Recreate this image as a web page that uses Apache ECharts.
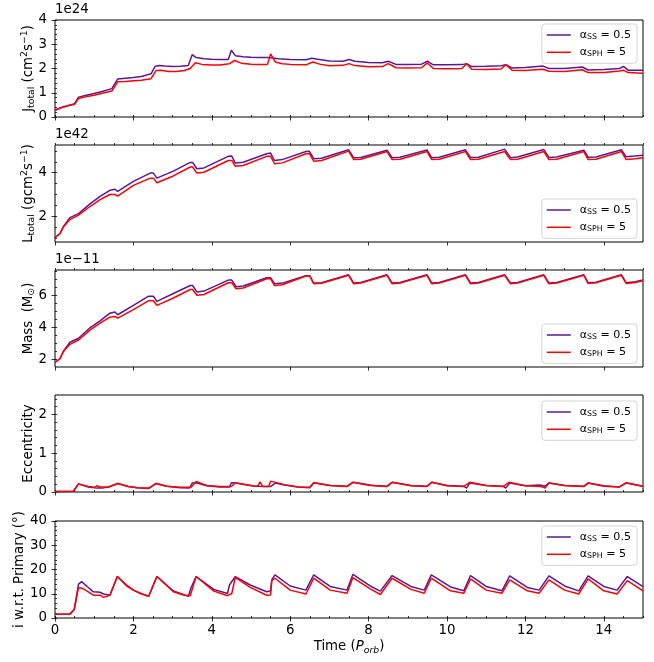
<!DOCTYPE html>
<html>
<head>
<meta charset="utf-8">
<script src="https://cdn.jsdelivr.net/npm/echarts@6/dist/echarts.min.js"></script>
<style>
  html, body { margin: 0; padding: 0; background: #fff; }
  #chart { width: 654px; height: 662px; }
</style>
</head>
<body>
<div id="chart"></div>
<script>
// ---- time axis (orbital periods) ----
const timeTicks = [0, 2, 4, 6, 8, 10, 12, 14];

// ---- total angular momentum J_total [1e24 cm^2 s^-1] : [time, value] ----
const jSS = [[0,0.28],[0.15,0.38],[0.3,0.45],[0.5,0.55],[0.6,0.82],[0.8,0.9],[1.0,0.97],[1.2,1.05],[1.45,1.17],[1.6,1.57],[1.8,1.6],[2.0,1.63],[2.2,1.67],[2.45,1.78],[2.55,2.08],[2.65,2.12],[2.8,2.1],[3.0,2.08],[3.2,2.09],[3.4,2.12],[3.5,2.57],[3.6,2.45],[3.8,2.4],[4.0,2.38],[4.2,2.37],[4.42,2.37],[4.5,2.75],[4.6,2.53],[4.8,2.48],[5.0,2.46],[5.2,2.45],[5.45,2.45],[5.5,2.5],[5.7,2.4],[6.0,2.37],[6.4,2.36],[6.55,2.42],[6.7,2.38],[7.0,2.31],[7.35,2.3],[7.5,2.37],[7.65,2.3],[8.0,2.25],[8.35,2.24],[8.5,2.3],[8.7,2.17],[9.0,2.16],[9.35,2.18],[9.5,2.3],[9.65,2.15],[10.0,2.15],[10.38,2.16],[10.5,2.2],[10.63,2.08],[11.0,2.09],[11.38,2.11],[11.5,2.16],[11.66,2.02],[12.0,2.04],[12.45,2.1],[12.6,2.0],[13.0,2.0],[13.45,2.06],[13.6,1.94],[14.0,1.96],[14.4,2.0],[14.5,2.09],[14.62,1.93],[15,1.93]];
const jSPH = [[0,0.28],[0.15,0.38],[0.3,0.45],[0.5,0.52],[0.6,0.76],[0.8,0.84],[1.0,0.9],[1.2,0.98],[1.45,1.07],[1.6,1.45],[1.8,1.46],[2.0,1.49],[2.2,1.52],[2.45,1.58],[2.58,1.92],[2.7,1.93],[2.9,1.88],[3.1,1.88],[3.3,1.92],[3.45,2.0],[3.58,2.24],[3.75,2.17],[4.0,2.14],[4.2,2.14],[4.45,2.2],[4.58,2.33],[4.75,2.22],[5.0,2.18],[5.2,2.17],[5.42,2.17],[5.5,2.6],[5.62,2.27],[5.8,2.2],[6.0,2.17],[6.4,2.15],[6.58,2.27],[6.75,2.18],[7.0,2.11],[7.35,2.13],[7.5,2.2],[7.65,2.12],[8.0,2.07],[8.35,2.08],[8.5,2.2],[8.7,2.03],[9.0,2.02],[9.35,2.03],[9.5,2.23],[9.65,2.0],[10.0,1.99],[10.38,2.0],[10.5,2.2],[10.63,1.97],[11.0,1.96],[11.38,1.98],[11.5,2.16],[11.66,1.93],[12.0,1.92],[12.45,1.97],[12.6,1.89],[13.0,1.88],[13.45,1.95],[13.6,1.83],[14.0,1.84],[14.4,1.9],[14.5,1.93],[14.62,1.83],[15,1.8]];
const jTicks = [0, 1, 2, 3, 4];

// ---- total angular momentum L_total [1e42 g cm^2 s^-1] ----
const lSS = [[0,1.02],[0.13,1.21],[0.21,1.52],[0.38,1.94],[0.6,2.12],[0.9,2.58],[1.15,2.91],[1.4,3.19],[1.53,3.24],[1.6,3.14],[2.0,3.6],[2.43,3.98],[2.51,3.98],[2.6,3.75],[3.02,4.07],[3.45,4.47],[3.51,4.47],[3.62,4.18],[3.8,4.22],[4.42,4.75],[4.51,4.76],[4.6,4.44],[4.8,4.48],[5.4,4.87],[5.5,4.9],[5.6,4.56],[5.8,4.6],[6.4,4.97],[6.49,4.98],[6.6,4.64],[6.8,4.66],[7.49,5.05],[7.62,4.69],[7.8,4.7],[8.47,5.03],[8.6,4.69],[8.8,4.71],[9.49,5.04],[9.61,4.69],[9.8,4.71],[10.47,5.05],[10.6,4.7],[10.8,4.71],[11.47,5.08],[11.62,4.69],[11.8,4.72],[12.47,5.06],[12.6,4.7],[12.8,4.72],[13.49,5.03],[13.6,4.71],[13.8,4.72],[14.45,5.05],[14.57,4.73],[14.8,4.76],[15,4.8]];
const lSPH = [[0,1.02],[0.13,1.21],[0.21,1.5],[0.38,1.85],[0.6,2.05],[0.9,2.46],[1.15,2.76],[1.4,3.0],[1.53,3.0],[1.6,2.93],[2.0,3.42],[2.43,3.75],[2.51,3.75],[2.6,3.54],[3.02,3.85],[3.45,4.26],[3.51,4.26],[3.62,3.98],[3.8,4.02],[4.42,4.56],[4.51,4.56],[4.6,4.29],[4.8,4.33],[5.4,4.75],[5.5,4.75],[5.6,4.41],[5.8,4.45],[6.4,4.87],[6.49,4.87],[6.6,4.53],[6.8,4.56],[7.49,4.99],[7.62,4.6],[7.8,4.62],[8.47,4.97],[8.6,4.6],[8.8,4.62],[9.49,4.97],[9.61,4.6],[9.8,4.62],[10.47,4.97],[10.6,4.6],[10.8,4.62],[11.47,4.97],[11.62,4.6],[11.8,4.62],[12.47,4.97],[12.6,4.6],[12.8,4.62],[13.49,4.97],[13.6,4.6],[13.8,4.62],[14.45,4.97],[14.57,4.6],[14.8,4.64],[15,4.69]];
const lTicks = [2, 4];

// ---- disc mass [1e-11 Msun] ----
const mSS = [[0,1.81],[0.13,2.06],[0.21,2.5],[0.38,3.08],[0.6,3.33],[0.9,4.0],[1.15,4.42],[1.4,4.9],[1.53,4.97],[1.6,4.8],[2.0,5.39],[2.39,5.96],[2.51,5.96],[2.6,5.64],[3.02,6.13],[3.45,6.63],[3.51,6.63],[3.62,6.23],[3.8,6.28],[4.42,6.97],[4.51,6.97],[4.62,6.55],[4.8,6.6],[5.4,7.12],[5.5,7.12],[5.6,6.74],[5.8,6.78],[6.4,7.24],[6.5,7.24],[6.6,6.78],[6.8,6.8],[7.49,7.3],[7.62,6.78],[7.8,6.82],[8.47,7.3],[8.6,6.78],[8.8,6.82],[9.49,7.3],[9.61,6.78],[9.8,6.82],[10.47,7.3],[10.6,6.78],[10.8,6.82],[11.47,7.3],[11.62,6.78],[11.8,6.82],[12.47,7.3],[12.6,6.78],[12.8,6.82],[13.49,7.3],[13.6,6.8],[13.8,6.84],[14.45,7.3],[14.57,6.8],[14.8,6.86],[15,6.98]];
const mSPH = [[0,1.81],[0.13,2.06],[0.21,2.48],[0.38,2.95],[0.6,3.22],[0.9,3.85],[1.15,4.27],[1.4,4.65],[1.53,4.69],[1.6,4.59],[2.0,5.12],[2.39,5.68],[2.51,5.68],[2.6,5.39],[3.02,5.85],[3.45,6.38],[3.51,6.38],[3.62,6.02],[3.8,6.07],[4.42,6.8],[4.51,6.8],[4.62,6.42],[4.8,6.47],[5.4,7.05],[5.5,7.05],[5.6,6.63],[5.8,6.68],[6.4,7.22],[6.5,7.22],[6.6,6.74],[6.8,6.77],[7.49,7.27],[7.62,6.74],[7.8,6.78],[8.47,7.27],[8.6,6.74],[8.8,6.78],[9.49,7.27],[9.61,6.74],[9.8,6.78],[10.47,7.27],[10.6,6.74],[10.8,6.78],[11.47,7.27],[11.62,6.74],[11.8,6.78],[12.47,7.27],[12.6,6.74],[12.8,6.78],[13.49,7.27],[13.6,6.76],[13.8,6.8],[14.45,7.27],[14.57,6.76],[14.8,6.82],[15,6.93]];
const mTicks = [2, 4, 6];

// ---- eccentricity ----
const eSS = [[0,0.01],[0.47,0.02],[0.6,0.21],[0.85,0.13],[1.07,0.1],[1.2,0.1],[1.37,0.13],[1.6,0.22],[1.87,0.14],[2.1,0.11],[2.39,0.09],[2.58,0.22],[2.85,0.15],[3.19,0.11],[3.43,0.1],[3.5,0.23],[3.6,0.24],[3.87,0.16],[4.2,0.13],[4.45,0.13],[4.5,0.24],[4.6,0.23],[5.1,0.15],[5.5,0.14],[5.55,0.12],[5.62,0.23],[5.85,0.18],[6.2,0.13],[6.5,0.11],[6.6,0.24],[7.02,0.17],[7.45,0.15],[7.6,0.25],[8.04,0.18],[8.08,0.2],[8.15,0.17],[8.47,0.15],[8.6,0.25],[9.08,0.17],[9.49,0.15],[9.61,0.25],[10.0,0.17],[10.42,0.15],[10.5,0.1],[10.58,0.23],[11.0,0.17],[11.43,0.15],[11.5,0.1],[11.6,0.23],[12.0,0.16],[12.37,0.18],[12.5,0.15],[12.6,0.23],[13.0,0.17],[13.49,0.15],[13.6,0.23],[14.0,0.16],[14.4,0.13],[14.57,0.23],[15,0.15]];
const eSPH = [[0,0.01],[0.47,0.02],[0.6,0.21],[0.85,0.14],[1.0,0.12],[1.07,0.16],[1.15,0.13],[1.37,0.13],[1.6,0.22],[1.87,0.14],[2.1,0.11],[2.39,0.1],[2.58,0.22],[2.85,0.15],[3.19,0.12],[3.47,0.12],[3.6,0.27],[3.87,0.17],[4.2,0.14],[4.5,0.14],[4.6,0.24],[5.1,0.15],[5.18,0.16],[5.23,0.26],[5.3,0.14],[5.45,0.14],[5.5,0.28],[5.85,0.19],[6.2,0.13],[6.5,0.12],[6.6,0.24],[7.02,0.17],[7.45,0.14],[7.6,0.25],[8.04,0.17],[8.47,0.14],[8.6,0.25],[9.08,0.16],[9.49,0.14],[9.61,0.25],[10.0,0.16],[10.42,0.14],[10.58,0.25],[11.0,0.17],[11.43,0.14],[11.58,0.25],[12.0,0.16],[12.4,0.14],[12.5,0.1],[12.6,0.23],[13.0,0.17],[13.49,0.14],[13.6,0.23],[14.0,0.15],[14.4,0.13],[14.57,0.24],[15,0.15]];
const eTicks = [0, 1, 2];

// ---- inclination w.r.t. the primary [deg] ----
const iSS = [[0,1.5],[0.38,1.6],[0.49,3.5],[0.6,14.0],[0.68,15.0],[0.85,12.6],[0.98,10.8],[1.15,10.6],[1.24,9.9],[1.4,9.4],[1.59,17.1],[1.83,13.6],[2.0,11.5],[2.2,10.0],[2.39,9.0],[2.6,17.1],[3.02,11.1],[3.4,9.0],[3.47,12.5],[3.6,17.1],[4.05,11.8],[4.4,10.1],[4.45,13.6],[4.6,17.1],[4.98,13.6],[5.4,10.8],[5.5,11.2],[5.53,15.7],[5.61,17.8],[6.0,13.2],[6.4,11.5],[6.6,17.8],[7.02,13.0],[7.45,11.5],[7.6,18.0],[8.04,13.2],[8.3,11.1],[8.6,17.5],[9.08,13.0],[9.42,11.5],[9.6,17.8],[10.09,12.8],[10.43,11.2],[10.6,17.5],[11.0,13.0],[11.4,11.2],[11.6,17.4],[12.05,12.6],[12.35,11.5],[12.6,17.4],[13.0,13.2],[13.36,11.2],[13.6,17.4],[14.0,13.0],[14.34,11.5],[14.6,17.1],[15,12.9]];
const iSPH = [[0,1.5],[0.38,1.6],[0.49,3.5],[0.6,12.6],[0.7,12.2],[0.85,10.8],[0.98,9.4],[1.15,9.4],[1.24,8.5],[1.4,9.4],[1.59,17.1],[1.83,13.2],[2.0,11.5],[2.2,10.0],[2.39,9.0],[2.6,17.1],[3.02,10.8],[3.3,9.4],[3.45,9.2],[3.6,17.1],[4.05,11.1],[4.4,9.2],[4.51,10.1],[4.6,16.8],[4.98,12.6],[5.4,9.4],[5.5,9.5],[5.53,15.4],[5.61,16.4],[6.0,11.5],[6.4,9.9],[6.6,16.4],[7.02,11.5],[7.45,10.2],[7.6,16.7],[8.04,12.0],[8.3,9.7],[8.6,16.4],[9.08,11.8],[9.42,10.2],[9.6,16.4],[10.09,11.2],[10.43,10.2],[10.6,16.1],[11.0,11.5],[11.4,10.2],[11.6,15.7],[12.05,11.2],[12.35,10.2],[12.6,15.7],[13.0,11.5],[13.36,9.9],[13.6,16.1],[14.0,11.2],[14.34,9.9],[14.6,15.4],[15,11.2]];
const iTicks = [0, 10, 20, 30, 40];

// ---- styling ----
const FONT = 'DejaVu Sans';
const FS = 13.33;
const SUB = 9.3;
const LFS = 11.1;   // legend font ("small")
const LSUB = 7.8;
const C_SS = '#5a1898';
const C_SPH = '#ff0000';
const INK = '#000';

const gridTops = [20, 145, 270, 395, 521];
const gridH = 97;

// evenly spaced tick positions
function steps(lo, hi, step) {
  const out = [];
  for (let v = lo; v <= hi + 1e-9; v += step) out.push(+v.toFixed(6));
  return out;
}

const nameRich = {
  m: { fontFamily: FONT, fontSize: FS, color: INK, lineHeight: 16 },
  s: { fontFamily: FONT, fontSize: SUB, color: INK, lineHeight: 8, verticalAlign: 'bottom' },
  u: { fontFamily: FONT, fontSize: SUB, color: INK, lineHeight: 8, verticalAlign: 'top' },
  it: { fontFamily: FONT, fontSize: FS, color: INK, lineHeight: 16, fontStyle: 'italic' },
  its: { fontFamily: FONT, fontSize: SUB, color: INK, lineHeight: 8, verticalAlign: 'bottom', fontStyle: 'italic' }
};

const panels = [
  { ss: jSS, sph: jSPH, min: 0, max: 4, ticks: jTicks, minor: steps(0, 4, 0.2),
    name: '{m|J}{s|total}{m| (cm}{u|2}{m|s}{u|\u22121}{m|)}', gap: 18.5, offset: '1e24', lgTop: 24 },
  { ss: lSS, sph: lSPH, min: 0.82, max: 5.27, ticks: lTicks, minor: steps(1, 5, 0.5),
    name: '{m|L}{s|total}{m| (gcm}{u|2}{m|s}{u|\u22121}{m|)}', gap: 18.5, offset: '1e42', lgTop: 199 },
  { ss: mSS, sph: mSPH, min: 1.53, max: 7.6, ticks: mTicks, minor: steps(2, 7.5, 0.5),
    name: '{m|Mass  (M}{s|\u2299}{m|)}', gap: 18.5, offset: '1e\u221211', lgTop: 324 },
  { ss: eSS, sph: eSPH, min: 0, max: 2.5, ticks: eTicks, minor: steps(0, 2.4, 0.2),
    name: '{m|Eccentricity}', gap: 18.5, offset: null, lgTop: 401 },
  { ss: iSS, sph: iSPH, min: 0, max: 40, ticks: iTicks, minor: steps(0, 40, 2),
    name: '{m|i w.r.t. Primary (°)}', gap: 27.5, offset: null, lgTop: 526 }
];

const grid = [], xAxis = [], yAxis = [], series = [], legend = [], graphic = [];
const tickLine = { color: INK, width: 0.8 };

panels.forEach((p, i) => {
  const last = i === panels.length - 1;
  grid.push({ left: 55, right: 11, top: gridTops[i], height: gridH, show: true,
    borderColor: INK, borderWidth: 1, backgroundColor: 'transparent' });

  // major x axis
  xAxis.push({
    gridIndex: i, type: 'value', min: 0, max: 15,
    axisLine: { show: false }, splitLine: { show: false },
    axisTick: { show: true, customValues: timeTicks, length: 3.5, lineStyle: tickLine },
    axisLabel: { show: last, customValues: timeTicks, fontFamily: FONT, fontSize: FS, color: INK, margin: 6 },
    name: last ? '{m|Time (}{it|P}{its|orb}{m|)}' : '',
    nameLocation: 'middle', nameGap: 21, nameMoveOverlap: false,
    nameTextStyle: { rich: nameRich }
  });
  // minor x ticks
  xAxis.push({
    gridIndex: i, type: 'value', min: 0, max: 15,
    axisLine: { show: false }, splitLine: { show: false },
    axisTick: { show: true, customValues: steps(0, 15, 0.5), length: 2, lineStyle: tickLine },
    axisLabel: { show: false }
  });
  // major y axis
  yAxis.push({
    gridIndex: i, type: 'value', min: p.min, max: p.max,
    axisLine: { show: false }, splitLine: { show: false },
    axisTick: { show: true, customValues: p.ticks, length: 3.5, lineStyle: tickLine },
    axisLabel: { show: true, customValues: p.ticks, fontFamily: FONT, fontSize: FS, color: INK, margin: 8 },
    name: p.name, nameLocation: 'middle', nameGap: p.gap, nameRotate: 90, nameMoveOverlap: false,
    nameTextStyle: { rich: nameRich }
  });
  // minor y ticks
  yAxis.push({
    gridIndex: i, type: 'value', min: p.min, max: p.max,
    axisLine: { show: false }, splitLine: { show: false },
    axisTick: { show: true, customValues: p.minor, length: 2, lineStyle: tickLine },
    axisLabel: { show: false }
  });

  const common = { type: 'line', xAxisIndex: 2 * i, yAxisIndex: 2 * i, symbol: 'none',
    animation: false, clip: true };
  series.push(Object.assign({ name: 'ss', data: p.ss,
    lineStyle: { color: C_SS, width: 1.5 }, itemStyle: { color: C_SS } }, common));
  series.push(Object.assign({ name: 'sph', data: p.sph,
    lineStyle: { color: C_SPH, width: 1.5 }, itemStyle: { color: C_SPH } }, common));

  legend.push({
    data: ['ss', 'sph'], orient: 'vertical', right: 17, top: p.lgTop,
    itemWidth: 24, itemHeight: 12, itemGap: 5.3,
    // thin horizontal stroke as the legend key
    icon: 'path://M0,0M0,5.25L24,5.25L24,6.75L0,6.75ZM24,12',
    padding: [5, 6, 5, 5],
    backgroundColor: 'rgba(255,255,255,0.8)', borderColor: '#d4d4d4', borderWidth: 1, borderRadius: 3,
    selectedMode: false,
    formatter: n => n === 'ss' ? '{a|\u03b1}{s|SS}{a| = 0.5}' : '{a|\u03b1}{s|SPH}{a| = 5}',
    textStyle: {
      padding: [0, 0, 0, 4],
      rich: {
        a: { fontFamily: FONT, fontSize: LFS, color: INK, lineHeight: 12 },
        s: { fontFamily: FONT, fontSize: LSUB, color: INK, lineHeight: 6, verticalAlign: 'bottom' }
      }
    }
  });

  if (p.offset) {
    graphic.push({ type: 'text', left: 55, top: gridTops[i] - 17,
      style: { text: p.offset, font: FS + 'px ' + FONT, fill: INK } });
  }
});

const chart = echarts.init(document.getElementById('chart'), null, { renderer: 'canvas' });
chart.setOption({
  backgroundColor: '#fff',
  animation: false,
  grid, xAxis, yAxis, series, legend, graphic
});
</script>
</body>
</html>
